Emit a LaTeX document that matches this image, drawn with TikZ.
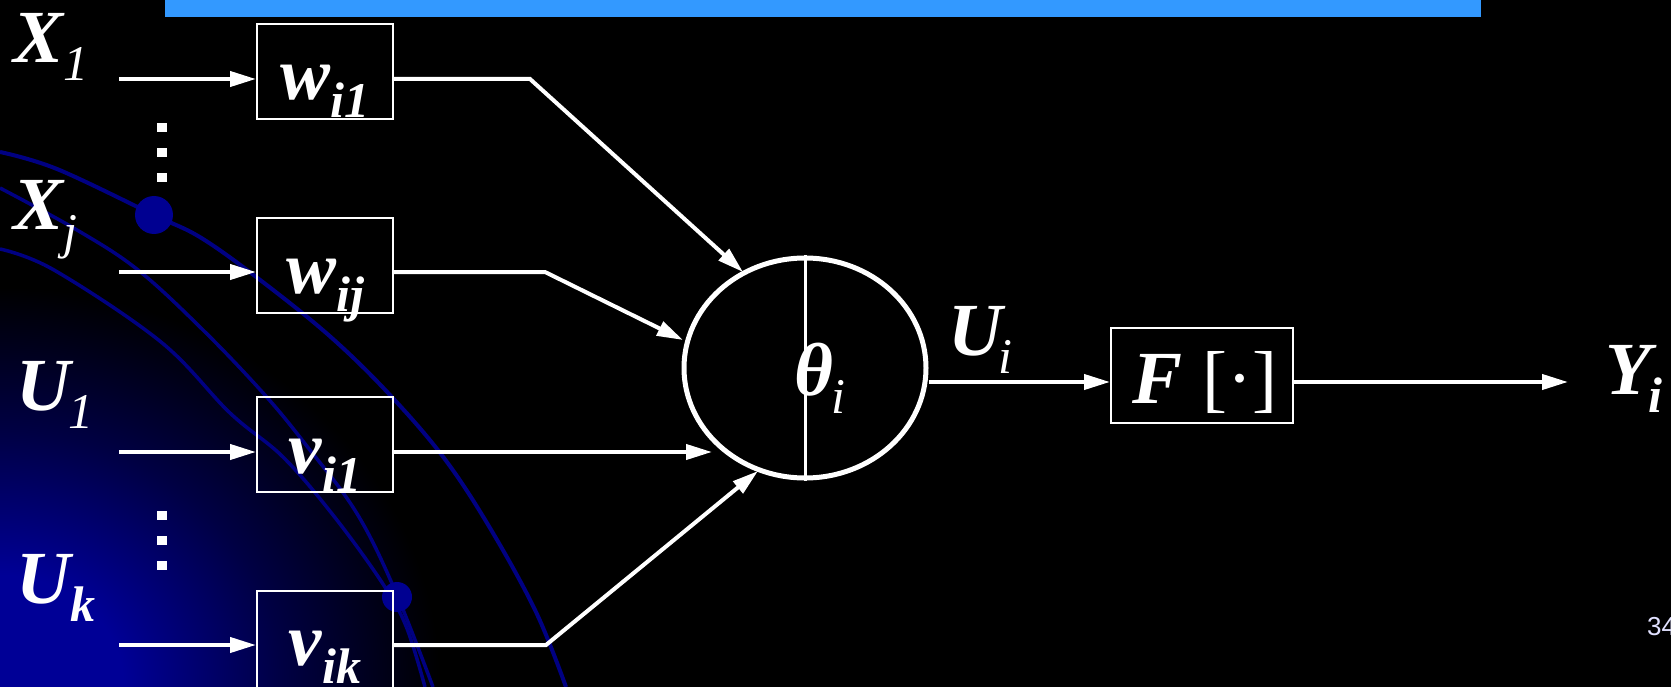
\documentclass[tikz,border=0pt]{standalone}
\usepackage{fontspec}
\setmainfont{Liberation Serif}
\newfontfamily\numfont{Liberation Sans}
\usetikzlibrary{arrows.meta,shapes.geometric}
\definecolor{barblue}{RGB}{51,153,255}
\definecolor{curveblue}{RGB}{0,0,130}
\definecolor{glowblue}{RGB}{0,0,150}
\definecolor{ballblue}{RGB}{0,0,145}
\definecolor{pagenum}{RGB}{225,225,255}
\pgfdeclareradialshading{cornerglow}{\pgfpoint{0bp}{0bp}}{color(0bp)=(glowblue); color(7bp)=(glowblue); color(16bp)=(glowblue!45!black); color(25bp)=(black); color(50bp)=(black)}
\newcommand\symreg[3][0pt]{{\fontsize{75pt}{75pt}\selectfont\bfseries\itshape #2}\kern#1\raisebox{-18pt}{\fontsize{50pt}{50pt}\selectfont\itshape #3}}
\newcommand\symbld[3][0pt]{{\fontsize{75pt}{75pt}\selectfont\bfseries\itshape #2}\kern#1\raisebox{-18pt}{\fontsize{50pt}{50pt}\selectfont\bfseries\itshape #3}}
\tikzset{
  wire/.style={white, line width=4pt},
  arr/.style={wire, -{Triangle[length=26pt,width=15pt]}},
  wbox/.style={draw=white, line width=2pt, minimum width=136pt, minimum height=95pt, inner sep=0pt},
  lab/.style={text=white, inner sep=0pt, anchor=base west},
  curve/.style={curveblue, line width=3.5pt},
  ball/.style={fill=ballblue},
  dotsq/.style={fill=white}
}
\begin{document}
\begin{tikzpicture}[x=1pt,y=-1pt]
\useasboundingbox (0,0) rectangle (1671,687);
\fill[black] (0,0) rectangle (1671,687);
\begin{scope}
  \clip (0,0) rectangle (1671,687);
  \shade[shading=cornerglow] (-440,287) rectangle (440,1087);
  \draw[curve, line width=4pt] plot[smooth, tension=0.6] coordinates {(0,152) (57,169) (154,215) (203,239) (268,286) (333,339) (390,395) (444,458) (490,528) (536,612) (566,687)};
  \draw[curve] plot[smooth, tension=0.6] coordinates {(0,188) (77,230) (138,270) (203,330) (264,394) (306,445) (356,512) (394,588) (433,687)};
  \draw[curve] plot[smooth, tension=0.6] coordinates {(0,249) (54,270) (161,342) (230,413) (283,457) (333,515) (381,581) (406,626) (425,687)};
  \fill[ball] (154,215) circle (19);
  \fill[ball] (397,597) circle (15);
\end{scope}
\fill[barblue] (165,0) rectangle (1481,17);
% input labels
\node[lab] (x1) at (13,63) {\symreg{X}{1}};
\node[lab] (xj) at (13,230) {\symreg{X}{j}};
\node[lab] (u1) at (16,410) {\symreg[-1.5pt]{U}{1}};
\node[lab] (uk) at (16,603) {\symbld{U}{k}};
% dots
\foreach \yy in {128,153,178,515,540,565} \fill[dotsq] (156.5,\yy-4.5) rectangle (166.5,\yy+4.5);
% weight boxes
\node[wbox] (w1) at (325,71.5) {};
\node[wbox] (w2) at (325,265.5) {};
\node[wbox] (v1) at (325,444.5) {};
\node[wbox, minimum height=104pt] (v2) at (325,643) {};
\node[lab, anchor=base] (tw1) at (325,100) {\symbld{w}{i1}};
\node[lab, anchor=base] (tw2) at (325,293) {\symbld{w}{ij}};
\node[lab, anchor=base] (tv1) at (325,473) {\symbld{v}{i1}};
\node[lab, anchor=base] (tv2) at (325,665) {\symbld{v}{ik}};
% neuron
\node[draw=white, line width=5pt, ellipse, minimum width=242pt, minimum height=220pt, inner sep=0pt] (n) at (805,368) {};
\draw[white, line width=3pt] (n.north) -- (n.south);
\node[lab] (th) at (794,395) {\symreg[-2pt]{θ}{i}};
% input wires
\coordinate (s1) at (119,79);
\coordinate (s2) at (119,272);
\coordinate (s3) at (119,452);
\coordinate (s4) at (119,645);
\draw[arr] (s1) -- (s1 -| w1.west);
\draw[arr] (s2) -- (s2 -| w2.west);
\draw[arr] (s3) -- (s3 -| v1.west);
\draw[arr] (s4) -- (s4 -| v2.west);
\coordinate (b1) at (530,79);
\coordinate (b2) at (545,272);
\coordinate (b4) at (546,645);
\coordinate (t1) at (743,272);
\coordinate (t2) at (683,340);
\coordinate (t3) at (712,452);
\coordinate (t4) at (758,471);
\draw[arr] (b1 -| w1.east) -- (b1) -- (t1);
\draw[arr] (b2 -| w2.east) -- (b2) -- (t2);
\draw[arr] (t3 -| v1.east) -- (t3);
\draw[arr] (b4 -| v2.east) -- (b4) -- (t4);
% output
\node[wbox, minimum width=182pt] (F) at (1202,375.5) {};
\node[lab] (Ft) at (1132,403) {\fontsize{75pt}{75pt}\selectfont{\bfseries\itshape F}\hspace{20pt}[·]};
\coordinate (oy) at (1000,382);
\coordinate (yend) at (1568,382);
\draw[arr] (n.east |- oy) -- (F.west |- oy);
\draw[arr] (F.east |- yend) -- (yend);
\node[lab] (ui) at (948,355) {\symreg[-4pt]{U}{i}};
\node[lab] (yi) at (1605,394) {\symbld[-3pt]{Y}{i}};
\node[lab, text=pagenum, font=\numfont\fontsize{26pt}{26pt}\selectfont] (pg) at (1647,635) {34};
\end{tikzpicture}
\end{document}
